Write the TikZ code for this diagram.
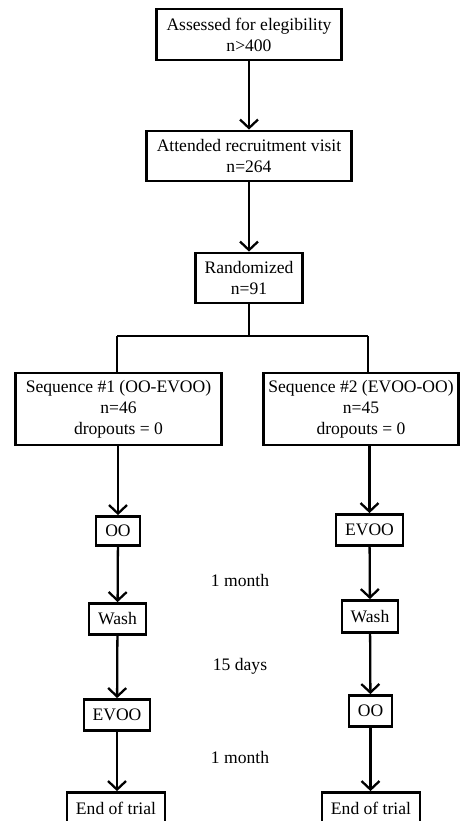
\documentclass[tikz,border=0pt]{standalone}
\usepackage{fontspec}
\setmainfont{Liberation Serif}
\usetikzlibrary{arrows.meta}

\begin{document}
\begin{tikzpicture}[x=0.02cm, y=-0.02cm,
    box/.style={draw, rectangle, line width=1.6pt, fill=white, align=center, inner sep=0pt, font=\fontsize{10}{12}\selectfont},
    arr/.style={line width=1.3pt, -{Straight Barb[length=1.7mm, width=3.6mm, line width=1.3pt]}},
    lnk/.style={line width=1.3pt},
    gap/.style={font=\fontsize{10}{12}\selectfont}]
    \useasboundingbox (0,0) rectangle (462,821);

    %% screening
    \path
    (249,34.5)node[box, minimum width=3.7cm, minimum height=1.02cm](b1){Assessed for elegibility\\n>400}
    (249,156)node[box, minimum width=4.1cm, minimum height=1cm](b2){Attended recruitment visit\\n=264}
    (249,278)node[box, minimum width=2.15cm, minimum height=1cm](b3){Randomized\\n=91}
    ;

    %% two sequences
    \path
    (118.5,409)node[box, minimum width=4.12cm, minimum height=1.44cm](s1){Sequence \#1 (OO-EVOO)\\n=46\\dropouts = 0}
    (361,409)node[box, minimum width=3.9cm, minimum height=1.44cm](s2){Sequence \#2 (EVOO-OO)\\n=45\\dropouts = 0}
    ;

    % left column
    \path
    (118,531)node[box, minimum width=0.88cm, minimum height=0.58cm](o1){OO}
    (117.5,619)node[box, minimum width=1.14cm, minimum height=0.62cm](w1){Wash}
    (117,715)node[box, minimum width=1.32cm, minimum height=0.62cm](e1){EVOO}
    (116,808.5)node[box, minimum width=1.96cm, minimum height=0.64cm](t1){End of trial}
    ;

    % right column
    \path
    (369.5,530)node[box, minimum width=1.34cm, minimum height=0.62cm](e2){EVOO}
    (370,616.5)node[box, minimum width=1.12cm, minimum height=0.64cm](w2){Wash}
    (370.5,711)node[box, minimum width=0.86cm, minimum height=0.62cm](o2){OO}
    (371,808.5)node[box, minimum width=1.96cm, minimum height=0.64cm](t2){End of trial}
    ;

    % time between steps
    \path
    (240,580)node[gap](m1){1 month}
    (240,666)node[gap](d1){15 days}
    (240,757)node[gap](m2){1 month}
    ;

    %% connectors
    \coordinate (bl) at (117,336);
    \coordinate (br) at (368,336);
    \draw[arr] (b1) -- (b2);
    \draw[arr] (b2) -- (b3);
    \draw[lnk] (b3) -- (b3.south |- bl);
    \draw[lnk] (bl) -- (br);
    \draw[lnk] (bl) -- (bl |- s1.north);
    \draw[lnk] (br) -- (br |- s2.north);

    \draw[arr] (s1.south -| o1.north) -- (o1);
    \draw[arr] (o1) -- (w1);
    \draw[arr] (w1) -- (e1);
    \draw[arr] (e1) -- (t1.north -| e1.south);

    \draw[arr] (s2.south -| e2.north) -- (e2);
    \draw[arr] (e2) -- (w2);
    \draw[arr] (w2) -- (o2);
    \draw[arr] (o2) -- (t2.north -| o2.south);
\end{tikzpicture}
\end{document}
